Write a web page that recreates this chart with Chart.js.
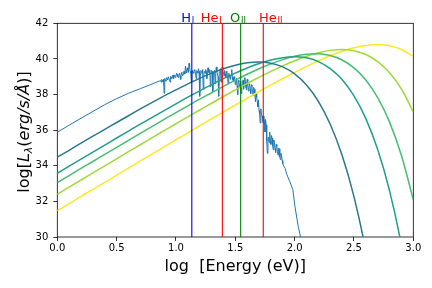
<!DOCTYPE html>
<html>
<head>
<meta charset="utf-8">
<script src="https://cdn.jsdelivr.net/npm/chart.js@4.4.0/dist/chart.umd.min.js"></script>
<style>
html, body { margin: 0; padding: 0; background: #fff; }
#wrap { width: 432px; height: 288px; }
</style>
</head>
<body>
<div id="wrap"><canvas id="sed" width="432" height="288"></canvas></div>

<script>
// log energy grid (eV) for the blackbody curves
var logE = [0.0, 0.1, 0.2, 0.3, 0.4, 0.5, 0.6, 0.7, 0.8, 0.9, 1.0, 1.1, 1.2, 1.3, 1.4, 1.5,
            1.6, 1.7, 1.8, 1.9, 2.0, 2.1, 2.2, 2.3, 2.4, 2.5, 2.6, 2.7, 2.8, 2.9, 3.0];

// blackbodies, log L_lambda
var bb10  = [34.48, 34.87, 35.27, 35.66, 36.04, 36.43, 36.81, 37.19, 37.56, 37.92, 38.26, 38.60, 38.91, 39.20, 39.45, 39.65,
             39.78, 39.83, 39.76, 39.55, 39.16, 38.53, 37.62, 36.33, 34.59, 32.27, 29.21, 25.23, null, null, null];
var bb20  = [33.58, 33.98, 34.37, 34.77, 35.16, 35.56, 35.95, 36.34, 36.72, 37.10, 37.48, 37.85, 38.21, 38.56, 38.89, 39.20,
             39.49, 39.74, 39.94, 40.07, 40.12, 40.06, 39.85, 39.46, 38.84, 37.92, 36.65, 34.91, 32.59, 29.54, 25.58];
var bb30  = [33.05, 33.45, 33.85, 34.24, 34.64, 35.03, 35.43, 35.82, 36.21, 36.60, 36.98, 37.36, 37.74, 38.10, 38.46, 38.81,
             39.14, 39.45, 39.72, 39.96, 40.15, 40.26, 40.29, 40.19, 39.94, 39.50, 38.82, 37.82, 36.45, 34.58, 32.10];
var bb50  = [32.40, 32.80, 33.20, 33.60, 33.99, 34.39, 34.79, 35.18, 35.58, 35.97, 36.36, 36.75, 37.13, 37.51, 37.89, 38.26,
             38.62, 38.97, 39.30, 39.61, 39.90, 40.15, 40.35, 40.48, 40.53, 40.46, 40.25, 39.85, 39.22, 38.31, 37.02];
var bb100 = [31.48, 31.88, 32.28, 32.68, 33.07, 33.47, 33.87, 34.27, 34.67, 35.06, 35.46, 35.85, 36.25, 36.64, 37.02, 37.41,
             37.79, 38.17, 38.54, 38.90, 39.24, 39.58, 39.89, 40.18, 40.43, 40.63, 40.76, 40.81, 40.74, 40.53, 40.14];

// observed spectrum (main samples)
var specE = [0, 0.1, 0.2, 0.3, 0.4, 0.5, 0.6, 0.7, 0.78, 0.86,
  0.87, 0.88, 0.89, 0.90, 0.91, 0.92, 0.93, 0.94, 0.95, 0.96, 0.97, 0.98, 0.99,
  1.00, 1.01, 1.02, 1.03, 1.04, 1.05, 1.06, 1.07, 1.08, 1.09,
  1.10, 1.11, 1.12, 1.13, 1.14, 1.15, 1.16, 1.17, 1.18, 1.19,
  1.20, 1.21, 1.22, 1.23, 1.24, 1.25, 1.26, 1.27, 1.28, 1.29,
  1.30, 1.31, 1.32, 1.33, 1.34, 1.35, 1.36, 1.37, 1.38, 1.39,
  1.40, 1.41, 1.42, 1.43, 1.44, 1.45, 1.46, 1.47, 1.48, 1.49,
  1.50, 1.51, 1.52, 1.53, 1.54, 1.55, 1.56, 1.57, 1.58, 1.59,
  1.60, 1.61, 1.62, 1.63, 1.64, 1.65, 1.66, 1.67, 1.68, 1.69,
  1.70, 1.71, 1.72, 1.73, 1.74, 1.75, 1.76, 1.77, 1.78, 1.79,
  1.80, 1.81, 1.82, 1.83, 1.84, 1.85, 1.86, 1.87, 1.88, 1.89,
  1.90, 1.92, 1.935, 1.96, 1.985, 2.003, 2.03, 2.05, 2.06];
var specL = [35.88, 36.28, 36.67, 37.05, 37.43, 37.77, 38.07, 38.33, 38.54, 38.76,
  38.78, 38.85, 38.72, 38.07, 38.80, 38.95, 38.82, 39.00, 38.70, 38.98, 39.05, 38.90, 39.10,
  39.02, 39.15, 38.95, 39.20, 38.85, 39.25, 39.12, 39.30, 39.60, 39.22,
  39.40, 39.75, 39.30, 38.70, 39.35, 39.20, 39.40, 38.90, 39.30, 39.45,
  37.90, 39.35, 39.20, 38.30, 39.30, 39.40, 38.90, 39.50, 39.20, 38.45,
  39.35, 38.15, 39.25, 38.60, 39.55, 39.10, 37.90, 39.30, 38.70, 39.55,
  39.20, 39.35, 38.95, 39.25, 38.60, 39.10, 38.85, 39.40, 38.80, 39.00,
  38.55, 38.90, 38.00, 38.70, 38.35, 38.05, 38.60, 38.30, 38.95, 38.40,
  38.85, 38.20, 38.60, 38.05, 38.45, 37.95, 38.30, 37.60, 37.85, 37.30,
  37.10, 36.40, 36.90, 36.50, 36.80, 35.90, 36.30, 34.70, 35.60, 35.90,
  35.20, 35.55, 34.90, 35.30, 34.75, 35.10, 34.60, 34.95, 34.35, 34.55,
  34.10, 33.85, 33.50, 33.10, 32.65, 31.70, 30.60, 30.00, 29.60];

// in-between samples of the noisy part, at 0.875, 0.885, ... 1.895
var midE0 = 0.875;
var midL = [38.70, 38.80, 38.85, 38.90, 38.75, 38.88, 39.00, 38.85, 39.02, 38.90, 39.10, 39.05, 38.95,
  39.20, 39.00, 39.10, 39.05, 39.20, 39.05, 39.30, 39.15, 39.35, 39.50,
  39.25, 39.55, 39.20, 39.10, 39.25, 39.38, 39.15, 39.35, 39.20, 39.30,
  39.15, 39.30, 39.40, 39.15, 39.20, 39.30, 39.35, 39.25, 39.40, 39.20,
  39.30, 39.20, 39.35, 39.20, 39.30, 39.00, 39.25, 39.45, 39.20, 39.35,
  39.05, 39.15, 39.30, 38.90, 39.20, 38.95, 39.10, 39.00, 38.70, 38.90,
  38.75, 38.50, 38.80, 38.55, 38.75, 38.40, 38.80, 38.55, 38.70, 38.25,
  38.55, 38.40, 38.30, 38.55, 38.15, 38.40, 38.00, 38.10, 37.60, 37.70,
  36.90, 37.20, 36.80, 36.40, 36.50, 36.60, 35.40, 35.50, 35.30, 35.40,
  35.70, 35.10, 35.45, 34.95, 35.20, 34.80, 35.00, 34.50, 34.70, 34.30];

// ionisation edges, log E (eV)
var lineE = [1.1335, 1.3909, 1.5453, 1.7356];
var lineIon = ['H', 'He', 'O', 'He'];
var lineStage = ['I', 'I', 'II', 'II'];
var lineColor = ['rgb(0,0,255)', 'rgb(255,0,0)', 'rgb(0,128,0)', 'rgb(255,0,0)'];
</script>

<script>
var FONT = "'DejaVu Sans', sans-serif";

function pts(xs, ys) {
	var out = [];
	for (var i = 0; i < xs.length; i++) {
		if (ys[i] !== null) out.push({x: xs[i], y: ys[i]});
	}
	return out;
}

// spectrum: main samples plus in-between ones, sorted by energy
var specPts = pts(specE, specL);
for (var k = 0; k < midL.length; k++) {
	specPts.push({x: Math.round((midE0 + 0.01 * k) * 1000) / 1000, y: midL[k]});
}
specPts.sort(function(a, b) { return a.x - b.x; });

function bbSet(vals, col) {
	return {
		data: pts(logE, vals),
		borderColor: col,
		borderWidth: 1.5,
		pointRadius: 0,
		fill: false,
		cubicInterpolationMode: 'monotone',
		order: 1
	};
}

var datasets = [];

// vertical edges on top
for (var i = 0; i < lineE.length; i++) {
	datasets.push({
		data: [{x: lineE[i], y: 30}, {x: lineE[i], y: 42}],
		borderColor: lineColor[i],
		borderWidth: 1.1,
		pointRadius: 0,
		fill: false,
		order: 0
	});
}

datasets.push(bbSet(bb10,  '#2a788e'));
datasets.push(bbSet(bb20,  '#1f9e89'));
datasets.push(bbSet(bb30,  '#44bf70'));
datasets.push(bbSet(bb50,  '#9fda3a'));
datasets.push(bbSet(bb100, '#fde725'));

datasets.push({
	data: specPts,
	borderColor: '#1f77b4',
	borderWidth: 1,
	pointRadius: 0,
	fill: false,
	tension: 0,
	order: 2
});

// label offsets (px) relative to each edge line
var labelPlugin = {
	id: 'edgeLabels',
	afterDraw: function(chart) {
		var ctx = chart.ctx;
		var xs = chart.scales.x;
		var offs = [-10.6, -21.6, -10.6, -4.3];
		ctx.save();
		ctx.textBaseline = 'alphabetic';
		ctx.textAlign = 'left';
		for (var i = 0; i < lineE.length; i++) {
			var px = xs.getPixelForValue(lineE[i]) + offs[i];
			ctx.fillStyle = lineColor[i];
			ctx.font = '13px ' + FONT;
			ctx.fillText(lineIon[i], px, 21.5);
			var w = ctx.measureText(lineIon[i]).width;
			ctx.font = '8.5px ' + FONT;
			ctx.fillText(lineStage[i], px + w + 0.8, 23.2);
		}
		ctx.restore();
	}
};

var framePlugin = {
	id: 'frame',
	beforeDatasetsDraw: function(chart) {
		var a = chart.chartArea;
		var ctx = chart.ctx;
		ctx.save();
		ctx.strokeStyle = '#000';
		ctx.lineWidth = 0.8;
		ctx.strokeRect(a.left, a.top, a.right - a.left, a.bottom - a.top);
		ctx.restore();
	}
};

var titlePlugin = {
	id: 'axisTitles',
	afterDraw: function(chart) {
		var ctx = chart.ctx;
		var a = chart.chartArea;
		ctx.save();
		ctx.fillStyle = '#000';
		// x title
		ctx.font = '16px ' + FONT;
		ctx.textAlign = 'center';
		ctx.textBaseline = 'alphabetic';
		ctx.fillText('log  [Energy (eV)]', (a.left + a.right) / 2, 271);

		// y title, drawn in pieces for italics and subscript
		var parts = [
			{t: 'log[', f: '16px ' + FONT, dy: 0},
			{t: 'L', f: 'italic 16px ' + FONT, dy: 0},
			{t: 'λ', f: 'italic 11px ' + FONT, dy: 3.5},
			{t: '(', f: '16px ' + FONT, dy: 0},
			{t: 'erg/s/Å', f: 'italic 16px ' + FONT, dy: 0},
			{t: ')]', f: '16px ' + FONT, dy: 0}
		];
		var total = 0;
		parts.forEach(function(p) { ctx.font = p.f; p.w = ctx.measureText(p.t).width; total += p.w; });
		ctx.translate(28.5, 132);
		ctx.rotate(-Math.PI / 2);
		ctx.textAlign = 'left';
		var cx = -total / 2;
		parts.forEach(function(p) {
			ctx.font = p.f;
			ctx.fillText(p.t, cx, p.dy);
			cx += p.w;
		});
		ctx.restore();
	}
};

var chart = new Chart(document.getElementById('sed'), {
	type: 'line',
	data: { datasets: datasets },
	options: {
		responsive: false,
		animation: false,
		devicePixelRatio: 1,
		layout: { padding: { left: 0.3, right: 18.7, top: 23.3, bottom: 0 } },
		plugins: { legend: { display: false }, tooltip: { enabled: false } },
		scales: {
			x: {
				type: 'linear',
				min: 0, max: 3,
				afterFit: function(s) { s.height = 51; },
				border: { display: false },
				grid: { drawOnChartArea: false, drawTicks: true, tickLength: 4, tickColor: '#000', tickWidth: 0.8 },
				ticks: {
					stepSize: 0.5,
					padding: 1,
					color: '#000',
					font: { family: FONT, size: 10 },
					maxRotation: 0,
					callback: function(v) { return v.toFixed(1); }
				}
			},
			y: {
				min: 30, max: 42,
				afterFit: function(s) { s.width = 57; },
				border: { display: false },
				grid: { drawOnChartArea: false, drawTicks: true, tickLength: 4, tickColor: '#000', tickWidth: 0.8 },
				ticks: {
					stepSize: 2,
					padding: 5,
					color: '#000',
					font: { family: FONT, size: 10 }
				}
			}
		}
	},
	plugins: [framePlugin, labelPlugin, titlePlugin]
});
</script>
</body>
</html>
